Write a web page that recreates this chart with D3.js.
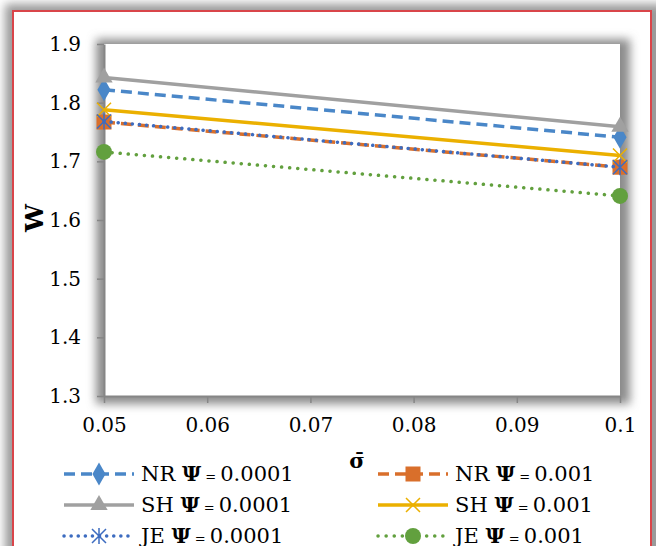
<!DOCTYPE html>
<html>
<head>
<meta charset="utf-8">
<script src="https://cdn.jsdelivr.net/npm/d3@7"></script>
<style>
  body { margin: 0; background: #fff; }
  svg { display: block; }
</style>
</head>
<body>
<div id="chart"></div>
<script>
// data
const sigma = [0.05, 0.1];
const xTicks = [0.05, 0.06, 0.07, 0.08, 0.09, 0.1];
const xTickLabels = ["0.05", "0.06", "0.07", "0.08", "0.09", "0.1"];
const yTicks = [1.3, 1.4, 1.5, 1.6, 1.7, 1.8, 1.9];

const seriesNames = ["NR", "NR", "SH", "SH", "JE", "JE"];
const seriesPsi = ["0.0001", "0.001", "0.0001", "0.001", "0.0001", "0.001"];
const nr1 = [1.822, 1.741];
const nr2 = [1.767, 1.690];
const sh1 = [1.843, 1.759];
const sh2 = [1.788, 1.710];
const je1 = [1.768, 1.690];
const je2 = [1.716, 1.641];

const width = 656;
const height = 546;
const serif = "'DejaVu Serif', serif";

const styles = [
  { color: "#4a87c8", dash: "11,6", cap: "butt", marker: "diamond" },
  { color: "#d96f2b", dash: "11,6", cap: "butt", marker: "square" },
  { color: "#a0a0a0", dash: null, cap: "butt", marker: "triangle" },
  { color: "#ebb000", dash: null, cap: "butt", marker: "x" },
  { color: "#3d6cc0", dash: "0.1,7", cap: "round", marker: "star" },
  { color: "#62a03e", dash: "0.1,8", cap: "round", marker: "circle" }
];
const allValues = [nr1, nr2, sh1, sh2, je1, je2];

const svg = d3.select("#chart").append("svg")
  .attr("width", width)
  .attr("height", height);

const defs = svg.append("defs");
const blur = defs.append("filter").attr("id", "soft")
  .attr("x", "-10%").attr("y", "-10%").attr("width", "120%").attr("height", "120%");
blur.append("feGaussianBlur").attr("stdDeviation", 5);

// outer frame with its shadow
svg.append("rect").attr("x", 5).attr("y", 4).attr("width", 660).attr("height", 600)
  .attr("fill", "#9a9a9a").attr("filter", "url(#soft)");
svg.append("rect").attr("x", 13).attr("y", 11).attr("width", 638).attr("height", 600)
  .attr("fill", "#fff").attr("stroke", "#d9454a").attr("stroke-width", 2);

const margin = { left: 104, right: 620, top: 44, bottom: 396 };

const x = d3.scaleLinear().domain([0.05, 0.1]).range([margin.left, margin.right]);
const y = d3.scaleLinear().domain([1.3, 1.9]).range([margin.bottom, margin.top]);

// plot area shadow
svg.append("rect")
  .attr("x", margin.left - 8).attr("y", margin.top - 5)
  .attr("width", margin.right - margin.left + 18).attr("height", margin.bottom - margin.top + 13)
  .attr("fill", "#8c8c8c").attr("filter", "url(#soft)");
svg.append("rect")
  .attr("x", margin.left).attr("y", margin.top)
  .attr("width", margin.right - margin.left).attr("height", margin.bottom - margin.top)
  .attr("fill", "#fff");

// axes
const yAxis = d3.axisLeft(y).tickValues(yTicks).tickSize(7).tickSizeOuter(0)
  .tickPadding(16).tickFormat(d3.format(".1f"));
const gy = svg.append("g").attr("transform", `translate(${margin.left},0)`).call(yAxis);

const xAxis = d3.axisBottom(x).tickValues(xTicks).tickSize(7).tickSizeOuter(0)
  .tickPadding(15).tickFormat((d, i) => xTickLabels[i]);
const gx = svg.append("g").attr("transform", `translate(0,${margin.bottom})`).call(xAxis);

[gx, gy].forEach(g => {
  g.attr("font-family", serif).attr("font-size", 20);
  g.select(".domain").attr("stroke", "#868686").attr("stroke-width", 2);
  g.selectAll(".tick line").attr("stroke", "#868686").attr("stroke-width", 1.5);
  g.selectAll(".tick text").attr("fill", "#000");
});

// axis titles
svg.append("text").attr("x", 357).attr("y", 468).attr("text-anchor", "middle")
  .attr("font-family", serif).attr("font-size", 21)
  .attr("font-weight", "bold").text("σ̄");
svg.append("text").attr("transform", "translate(43,218) rotate(-90)")
  .attr("text-anchor", "middle")
  .attr("font-family", serif).attr("font-size", 25).attr("font-weight", "bold")
  .text("W");

function drawMarker(g, type, cx, cy, color) {
  if (type === "diamond") {
    g.append("path").attr("d", d3.symbol(d3.symbolDiamond, 150)())
      .attr("transform", `translate(${cx},${cy})`).attr("fill", color);
  } else if (type === "square") {
    g.append("rect").attr("x", cx - 7.5).attr("y", cy - 7.5).attr("width", 15).attr("height", 15)
      .attr("fill", color);
  } else if (type === "triangle") {
    g.append("path").attr("d", d3.symbol(d3.symbolTriangle, 130)())
      .attr("transform", `translate(${cx},${cy})`).attr("fill", color);
  } else if (type === "x") {
    g.append("path").attr("d", `M${cx - 7},${cy - 7}L${cx + 7},${cy + 7}M${cx - 7},${cy + 7}L${cx + 7},${cy - 7}`)
      .attr("stroke", color).attr("stroke-width", 1.5);
  } else if (type === "star") {
    g.append("path").attr("d", `M${cx - 7},${cy - 7}L${cx + 7},${cy + 7}M${cx - 7},${cy + 7}L${cx + 7},${cy - 7}M${cx},${cy - 8}L${cx},${cy + 8}`)
      .attr("stroke", color).attr("stroke-width", 1.5);
  } else if (type === "circle") {
    g.append("circle").attr("cx", cx).attr("cy", cy).attr("r", 8).attr("fill", color);
  }
}

// series
const line = d3.line().x((d, i) => x(sigma[i])).y(d => y(d));
allValues.forEach((vals, k) => {
  const st = styles[k];
  const g = svg.append("g");
  g.append("path").datum(vals).attr("d", line)
    .attr("fill", "none").attr("stroke", st.color).attr("stroke-width", 3.5)
    .attr("stroke-linecap", st.cap)
    .attr("stroke-dasharray", st.dash);
  vals.forEach((v, i) => drawMarker(g, st.marker, x(sigma[i]), y(v), st.color));
});

// legend
const legendCols = [64, 378];
const legendRows = [474, 505, 536];
seriesNames.forEach((name, k) => {
  const st = styles[k];
  const lx = legendCols[k % 2];
  const ly = legendRows[Math.floor(k / 2)];
  const g = svg.append("g");
  g.append("line").attr("x1", lx).attr("x2", lx + 70).attr("y1", ly).attr("y2", ly)
    .attr("stroke", st.color).attr("stroke-width", 3.5)
    .attr("stroke-linecap", st.cap)
    .attr("stroke-dasharray", st.dash);
  drawMarker(g, st.marker, lx + 35, ly, st.color);
  const t = g.append("text").attr("x", lx + 77).attr("y", ly + 7)
    .attr("font-family", serif).attr("font-size", 21);
  t.append("tspan").text(name + " ");
  t.append("tspan").attr("font-weight", "bold").text("Ψ");
  t.append("tspan").attr("font-size", 13).text(" = ");
  t.append("tspan").text(seriesPsi[k]);
});
</script>
</body>
</html>
